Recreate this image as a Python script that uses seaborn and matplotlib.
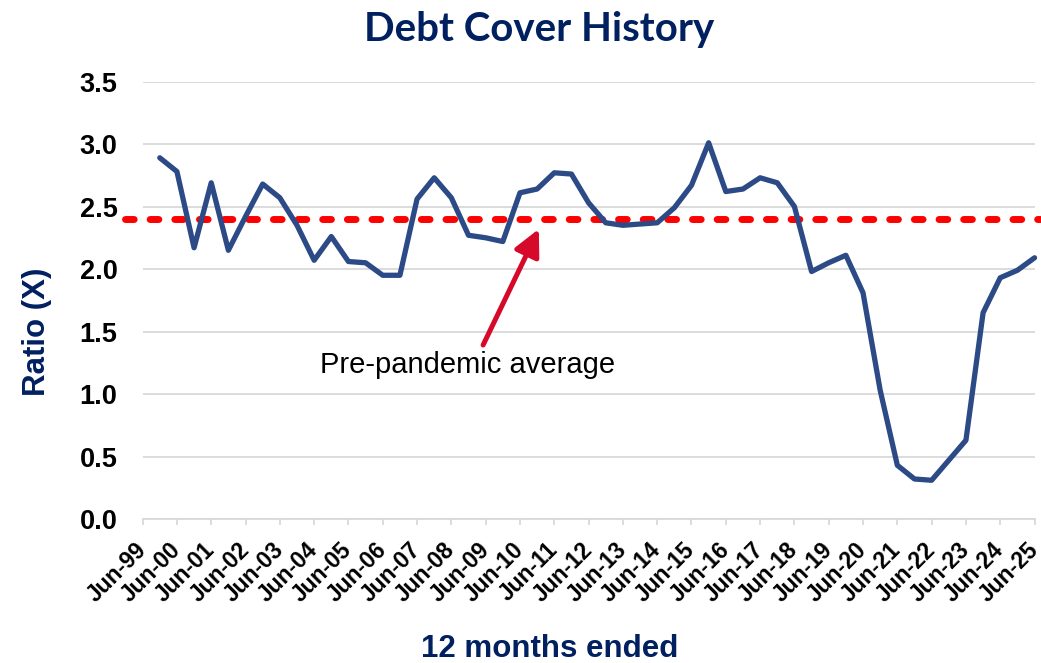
import numpy as np
import pandas as pd
import matplotlib
matplotlib.use("Agg")
import matplotlib.pyplot as plt
import seaborn as sns

# Semi-annual periods, Dec-99 through Jun-25
periods = []
for yr in range(1999, 2026):
    if yr > 1999:
        periods.append(f"Jun-{yr % 100:02d}")
    if yr < 2025:
        periods.append(f"Dec-{yr % 100:02d}")

ratio = [2.89, 2.78, 2.17, 2.69, 2.15, 2.42, 2.68, 2.57, 2.35, 2.07,
         2.26, 2.06, 2.05, 1.95, 1.95, 2.56, 2.73, 2.57, 2.27, 2.25,
         2.22, 2.61, 2.64, 2.77, 2.76, 2.53, 2.37, 2.35, 2.36, 2.37,
         2.49, 2.67, 3.01, 2.62, 2.64, 2.73, 2.69, 2.50, 1.98, 2.05,
         2.11, 1.81, 1.03, 0.43, 0.32, 0.31, 0.47, 0.63, 1.65, 1.93,
         1.99, 2.09]

tick_labels = [f"Jun-{yr % 100:02d}" for yr in range(1999, 2026)]
y_ticks = [0.0, 0.5, 1.0, 1.5, 2.0, 2.5, 3.0, 3.5]
pre_pandemic_avg = 2.40

navy = "#002060"
line_blue = "#2C4A86"
grid_grey = "#D9D9D9"

df = pd.DataFrame({"period": periods, "ratio": ratio})
df["pos"] = np.arange(len(df))

sns.set_theme(style="white")
plt.rcParams['font.family'] = ['Liberation Sans', 'DejaVu Sans']

fig = plt.figure(figsize=(10.41, 6.63), dpi=100)
ax = fig.add_axes([0.137, 0.2172, 0.9938 - 0.137, 0.877 - 0.2172])

# average line (runs a little past the plot edges like the original)
ax.plot([-2.05, 51.3], [pre_pandemic_avg, pre_pandemic_avg], color="#FF0000",
        lw=5, linestyle=(0, (1.25, 2.3)), dash_capstyle="round",
        clip_on=False, zorder=2)

sns.lineplot(data=df, x="pos", y="ratio", ax=ax, color=line_blue, lw=3.8,
             zorder=3, clip_on=False)

ax.set_xlim(-1, 51)
ax.set_ylim(0, 3.5)
ax.set_yticks(y_ticks)
ax.set_yticklabels([f"{v:.1f}" for v in y_ticks], fontsize=19.5,
                   fontweight="bold", color="black")
ax.set_xticks(np.arange(-1, 52, 2))
ax.set_xticklabels(tick_labels, rotation=45, ha="right", va="center",
                   rotation_mode="anchor", fontsize=16.5, fontweight="bold",
                   color="black")

ax.yaxis.grid(True, color=grid_grey, lw=1.3)
ax.xaxis.grid(False)
for side in ["left", "right", "top"]:
    ax.spines[side].set_visible(False)
ax.spines["bottom"].set_color(grid_grey)
ax.spines["bottom"].set_linewidth(1.3)
ax.tick_params(axis="y", length=0, pad=18)
ax.tick_params(axis="x", bottom=True, length=4.5, width=1.3, color=grid_grey,
               pad=15)
ax.set_xlabel("")
ax.set_ylabel("")

# annotation
ax.annotate("", xy=(22.10, 2.32), xytext=(18.85, 1.392),
            arrowprops=dict(arrowstyle="-|>,head_length=0.8,head_width=0.4",
                            color="#D7092B", lw=3.6, mutation_scale=20,
                            shrinkA=0, shrinkB=0))
ax.text(17.96, 1.232, "Pre-pandemic average", ha="center", va="center",
        fontsize=21, color="black")

fig.text(0.518, 1 - 30 / 663, "Debt Cover History", ha="center", va="center",
         fontsize=29, fontweight="bold", color=navy,
         family=["Lato", "DejaVu Sans"])
fig.text(37.5 / 1041, 1 - 331.7 / 663, "Ratio (X)", rotation=90, ha="center",
         va="center", fontsize=22.5, fontweight="bold", color=navy)
fig.text(550 / 1041, 1 - 649 / 663, "12 months ended", ha="center",
         va="center", fontsize=22.5, fontweight="bold", color=navy)

fig.savefig("out.png", dpi=100)
